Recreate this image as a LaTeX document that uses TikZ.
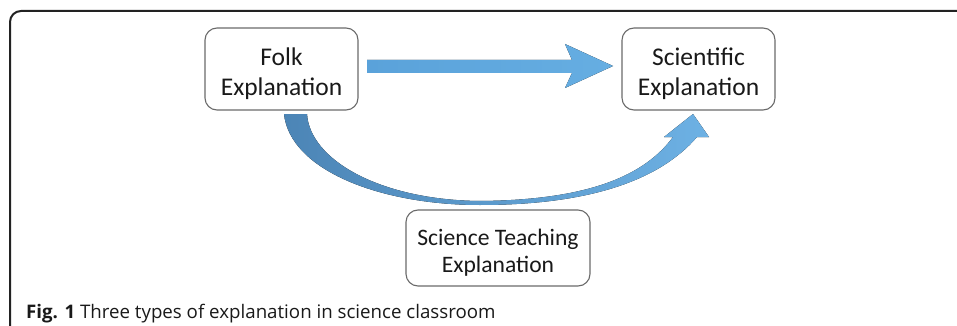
\documentclass[tikz,border=0pt]{standalone}
\usepackage{fontspec}
\setmainfont{Carlito}
\newfontfamily\capfont{Open Sans}
\usetikzlibrary{calc}
\definecolor{boxline}{HTML}{6A6A6A}
\definecolor{arrowA}{HTML}{5AA2DA}
\definecolor{arrowB}{HTML}{66AEE2}
\definecolor{curveA}{HTML}{4C85B6}
\definecolor{curveB}{HTML}{6DB1E4}
\definecolor{frameC}{HTML}{222222}
\tikzset{
  ebox/.style={draw=boxline, line width=1.1pt, rounded corners=12pt, fill=white,
    align=center, inner sep=0pt, font=\fontsize{25.5}{30}\selectfont, text=black!90},
}
\newcommand{\dn}[1]{\rule{0pt}{#1}}
\begin{document}
\begin{tikzpicture}[x=1pt,y=-1pt]
\useasboundingbox (0,0) rectangle (957,326);
% frame
\draw[frameC, line width=2pt, rounded corners=11pt] (10,340) -- (10,11) -- (970,11);
% boxes
\node[ebox, minimum width=153pt, minimum height=82pt] (folk) at (281.5,69) {\dn{28pt}Folk\\Explanation};
\node[ebox, minimum width=153pt, minimum height=82pt] (sci) at (698.5,69) {\dn{28pt}Scientific\\Explanation};
\node[ebox, minimum width=184pt, minimum height=76pt, font=\fontsize{23.6}{27}\selectfont] (teach) at (498,248) {\dn{25pt}Science Teaching\\Explanation};
% straight arrow
\fill[left color=arrowA, right color=arrowB]
  (367,60) -- (572,60) -- (565,44) -- (613,66) -- (565,88) -- (572,73) -- (367,73) -- cycle;
% curved arrow
\fill[left color=curveA, right color=curveB]
  (284,114) .. controls (290,170) and (380,205) .. (480,205)
  .. controls (590,205) and (660,180) .. (697,137)
  -- (709,137) -- (693,114) -- (664,137) -- (673,137)
  .. controls (645,175) and (590,200) .. (480,201)
  .. controls (380,200) and (310,160) .. (307,114) -- cycle;
% caption
\node[anchor=base west, inner sep=0pt, font=\capfont\fontsize{18.7}{22}\selectfont, text=black!90] (cap) at (26,318)
  {\textbf{Fig. 1} Three types of explanation in science classroom};
\end{tikzpicture}
\end{document}
